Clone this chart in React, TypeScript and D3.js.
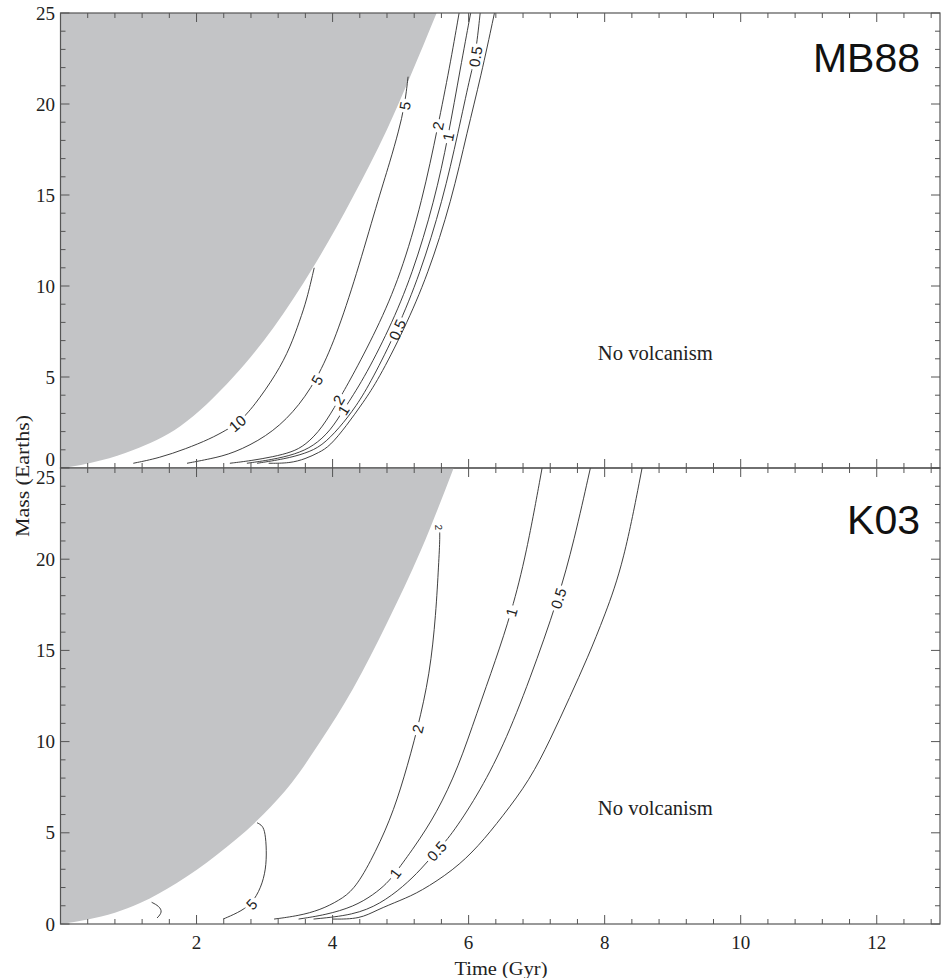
import React from "react";
import * as d3 from "d3";

type P = [number, number];

const W = 941;
const H = 978;
const X_MAX = 12.93;
const xMajorTicks = [2, 4, 6, 8, 10, 12];
const yMajorTicks = [0, 5, 10, 15, 20, 25];

// ---- MB88 panel (time Gyr, mass Earths) ----
const mb88Boundary: P[] = [[0, 0], [0.3, 0.17], [0.6, 0.42], [1.07, 0.99], [1.76, 2.3], [2.54, 5.0], [3.13, 7.7], [3.71, 11.0], [4.3, 14.9], [4.8, 18.6], [5.14, 21.5], [5.53, 25]];
const mb88C10: P[] = [[1.07, 0.26], [1.45, 0.55], [1.84, 1.05], [2.2, 1.6], [2.44, 2.09], [2.62, 2.5], [2.84, 3.37], [3.18, 5.19], [3.38, 6.65], [3.52, 8.13], [3.62, 9.23], [3.73, 11.0]];
const mb88C5: P[] = [[1.86, 0.26], [2.2, 0.5], [2.54, 0.8], [3.03, 1.72], [3.42, 3.0], [3.77, 4.84], [4.05, 7.2], [4.35, 10.6], [4.65, 14.5], [4.85, 16.9], [4.97, 18.5], [5.06, 19.9], [5.11, 21.5]];
const mb88C2: P[] = [[2.49, 0.26], [2.8, 0.4], [3.13, 0.62], [3.4, 0.87], [3.6, 1.25], [3.85, 2.2], [4.09, 3.74], [4.26, 4.84], [4.65, 7.6], [5.0, 10.6], [5.32, 14.7], [5.55, 18.8], [5.72, 22.0], [5.86, 25]];
const mb88C1: P[] = [[2.74, 0.26], [3.1, 0.45], [3.45, 0.75], [3.72, 1.2], [3.97, 2.05], [4.16, 3.19], [4.45, 4.84], [4.83, 7.6], [5.17, 10.6], [5.5, 14.7], [5.7, 18.2], [5.88, 22.0], [6.03, 25]];
const mb88C05: P[] = [[2.89, 0.26], [3.3, 0.5], [3.6, 0.8], [3.84, 1.2], [4.1, 2.2], [4.35, 3.4], [4.58, 4.84], [4.95, 7.6], [5.28, 10.6], [5.62, 14.7], [5.85, 18.5], [6.02, 21.5], [6.1, 22.6], [6.17, 25]];
const mb88C0: P[] = [[3.06, 0.26], [3.37, 0.26], [3.6, 0.5], [3.8, 0.85], [3.96, 1.2], [4.2, 2.3], [4.45, 3.6], [4.67, 4.84], [5.05, 7.6], [5.4, 10.6], [5.75, 14.7], [5.98, 18.5], [6.18, 21.5], [6.38, 25]];
const mb88Labels = [
  { text: "10", curve: "c10", t: 2.6, m: 2.45, size: 15 },
  { text: "5", curve: "c5", t: 3.77, m: 4.84, size: 15 },
  { text: "5", curve: "c5", t: 5.06, m: 19.9, size: 15 },
  { text: "2", curve: "c2", t: 4.09, m: 3.74, size: 15 },
  { text: "1", curve: "c1", t: 4.16, m: 3.19, size: 15 },
  { text: "2", curve: "c2", t: 5.55, m: 18.8, size: 15 },
  { text: "1", curve: "c1", t: 5.7, m: 18.2, size: 15 },
  { text: "0.5", curve: "c05", t: 4.95, m: 7.6, size: 15 },
  { text: "0.5", curve: "c05", t: 6.1, m: 22.6, size: 15 },
];

// ---- K03 panel ----
const k03Boundary: P[] = [[0, 0], [0.4, 0.25], [0.8, 0.62], [1.17, 1.15], [1.71, 2.25], [2.3, 3.8], [2.98, 6.0], [3.4, 7.75], [3.82, 10.0], [4.3, 12.9], [4.8, 16.5], [5.3, 20.5], [5.78, 25]];
const k03C5a: P[] = [[1.34, 1.19], [1.45, 0.98], [1.5, 0.65], [1.42, 0.33]];
const k03C5: P[] = [[2.39, 0.27], [2.6, 0.6], [2.81, 1.08], [2.95, 2.0], [3.02, 3.0], [3.03, 4.05], [3.01, 5.0], [2.97, 5.4], [2.89, 5.55]];
const k03C2: P[] = [[3.14, 0.27], [3.5, 0.45], [3.82, 0.77], [4.1, 1.3], [4.31, 1.86], [4.55, 3.33], [4.85, 5.7], [5.05, 8.0], [5.25, 10.7], [5.43, 13.7], [5.52, 17.0], [5.56, 19.8], [5.58, 21.2], [5.57, 21.9]];
const k03C1: P[] = [[3.5, 0.27], [3.9, 0.5], [4.31, 0.95], [4.6, 1.6], [4.8, 2.23], [4.92, 2.78], [5.2, 4.2], [5.53, 6.07], [5.85, 8.6], [6.12, 11.55], [6.4, 14.5], [6.63, 17.1], [6.85, 20.3], [7.08, 25]];
const k03C05: P[] = [[3.72, 0.27], [4.31, 0.49], [4.7, 1.1], [5.04, 2.05], [5.3, 3.0], [5.53, 4.0], [5.73, 4.79], [6.12, 6.98], [6.51, 9.72], [6.9, 13.4], [7.32, 17.85], [7.55, 21.0], [7.79, 25]];
const k03C0: P[] = [[4.0, 0.27], [4.4, 0.27], [4.65, 0.77], [5.0, 1.3], [5.29, 1.77], [5.78, 2.96], [6.14, 4.24], [6.5, 5.9], [6.9, 7.9], [7.2, 10.1], [7.49, 12.46], [7.75, 14.6], [8.0, 16.9], [8.28, 19.8], [8.55, 25]];
const k03Labels = [
  { text: "5", curve: "c5", t: 2.81, m: 1.08, size: 15 },
  { text: "2", curve: "c2", t: 5.25, m: 10.7, size: 15 },
  { text: "2", curve: "c2", t: 5.56, m: 21.75, size: 10 },
  { text: "1", curve: "c1", t: 4.92, m: 2.78, size: 15 },
  { text: "1", curve: "c1", t: 6.63, m: 17.1, size: 15 },
  { text: "0.5", curve: "c05", t: 5.53, m: 4.0, size: 15 },
  { text: "0.5", curve: "c05", t: 7.32, m: 17.85, size: 15 },
];

const SERIF = "'Liberation Serif', 'Times New Roman', serif";
const SANS = "'Liberation Sans', Arial, sans-serif";
const AXIS = "#555";
const LINE = "#2a2a2a";
const GREY = "#c3c4c6";

const x = d3.scaleLinear().domain([0, X_MAX]).range([60.5, 940]);

const panels = [
  {
    key: "mb88", title: "MB88", top: 13, bottom: 468, titleY: 72,
    boundary: mb88Boundary,
    curves: { c10: mb88C10, c5: mb88C5, c2: mb88C2, c1: mb88C1, c05: mb88C05, c0: mb88C0 } as Record<string, P[]>,
    labels: mb88Labels,
    shift: { 0: -9 } as Record<number, number>,
  },
  {
    key: "k03", title: "K03", top: 468, bottom: 924, titleY: 534,
    boundary: k03Boundary,
    curves: { c5a: k03C5a, c5: k03C5, c2: k03C2, c1: k03C1, c05: k03C05, c0: k03C0 } as Record<string, P[]>,
    labels: k03Labels,
    shift: { 25: 9 } as Record<number, number>,
  },
];

function textWidth(s: string, size: number) {
  let w = 0;
  for (const c of s) w += c === "." ? 0.28 : 0.56;
  return w * size;
}

function Panel({ p }: { p: (typeof panels)[number] }) {
  const y = d3.scaleLinear().domain([0, 25]).range([p.bottom, p.top]);
  const line = d3.line<P>().x((d) => x(d[0])).y((d) => y(d[1])).curve(d3.curveBasis);
  const edge = d3.line<P>().x((d) => x(d[0])).y((d) => y(d[1])).curve(d3.curveMonotoneX);
  const greyPath = edge(p.boundary) + `L${x(0)},${y(25)}Z`;
  const x0 = x(0), x1 = x(X_MAX);
  const clipId = `clip-${p.key}`;

  const labelGeom = p.labels.map((l) => {
    const pts = p.curves[l.curve].map((d) => [x(d[0]), y(d[1])]);
    const lx = x(l.t), ly = y(l.m);
    let best = 0, bd = Infinity;
    pts.forEach((q, i) => {
      const dd = (q[0] - lx) ** 2 + (q[1] - ly) ** 2;
      if (dd < bd) { bd = dd; best = i; }
    });
    const a = pts[Math.max(0, best - 1)], b = pts[Math.min(pts.length - 1, best + 1)];
    let ang = (Math.atan2(b[1] - a[1], b[0] - a[0]) * 180) / Math.PI;
    if (ang > 90) ang -= 180;
    if (ang < -90) ang += 180;
    return { ...l, lx, ly, ang, w: textWidth(l.text, l.size) + 5, h: l.size * 0.85 };
  });

  const xMinor = d3.range(0, X_MAX, 0.4).filter((v) => Math.round(v * 10) % 20 !== 0);
  const yMinor = d3.range(0, 25, 1).filter((v) => v % 5 !== 0);

  return (
    <g>
      <defs>
        <clipPath id={clipId}>
          <rect x={x0} y={p.top} width={x1 - x0} height={p.bottom - p.top} />
        </clipPath>
        {Object.keys(p.curves).map((k) => (
          <mask key={k} id={`mask-${p.key}-${k}`} maskUnits="userSpaceOnUse" x={0} y={0} width={W} height={H}>
            <rect x={0} y={0} width={W} height={H} fill="white" />
            {labelGeom.filter((l) => l.curve === k).map((l, i) => (
              <rect key={i} x={-l.w / 2} y={-l.h / 2} width={l.w} height={l.h} fill="black"
                transform={`translate(${l.lx},${l.ly}) rotate(${l.ang})`} />
            ))}
          </mask>
        ))}
      </defs>
      <g clipPath={`url(#${clipId})`}>
        <path d={greyPath} fill={GREY} stroke="none" />
        {Object.entries(p.curves).map(([k, pts]) => (
          <path key={k} d={line(pts) || ""} fill="none" stroke={LINE} strokeWidth={0.9}
            mask={`url(#mask-${p.key}-${k})`} />
        ))}
      </g>
      {labelGeom.map((l, i) => (
        <text key={i} transform={`translate(${l.lx},${l.ly}) rotate(${l.ang})`} textAnchor="middle"
          dominantBaseline="central" fontFamily={SANS} fontSize={l.size} fill="#222">{l.text}</text>
      ))}
      <text x={x(7.9)} y={y(5.95)} fontFamily={SERIF} fontSize={20} fill="#222"
        textLength={115} lengthAdjust="spacingAndGlyphs">No volcanism</text>
      <text x={920} y={p.titleY} textAnchor="end" fontFamily={SANS} fontSize={41} fill="#111">{p.title}</text>
      {/* frame */}
      <rect x={x0} y={p.top} width={x1 - x0} height={p.bottom - p.top} fill="none" stroke={AXIS} strokeWidth={1.2} />
      {/* x ticks */}
      {xMajorTicks.map((v) => (
        <g key={`xm${v}`} stroke={AXIS} strokeWidth={1}>
          <line x1={x(v)} x2={x(v)} y1={p.bottom} y2={p.bottom - 9} />
          <line x1={x(v)} x2={x(v)} y1={p.top} y2={p.top + 9} />
        </g>
      ))}
      {xMinor.map((v) => (
        <g key={`xn${v}`} stroke={AXIS} strokeWidth={1}>
          <line x1={x(v)} x2={x(v)} y1={p.bottom} y2={p.bottom - 5} />
          <line x1={x(v)} x2={x(v)} y1={p.top} y2={p.top + 5} />
        </g>
      ))}
      {/* y ticks */}
      {yMajorTicks.map((v) => (
        <g key={`ym${v}`}>
          <line x1={x0} x2={x0 + 9} y1={y(v)} y2={y(v)} stroke={AXIS} />
          <line x1={x1} x2={x1 - 9} y1={y(v)} y2={y(v)} stroke={AXIS} />
          <text x={55} y={y(v) + (p.shift[v] || 0)} textAnchor="end" dominantBaseline="central"
            fontFamily={SERIF} fontSize={19} fill="#222">{v}</text>
        </g>
      ))}
      {yMinor.map((v) => (
        <g key={`yn${v}`} stroke={AXIS}>
          <line x1={x0} x2={x0 + 5} y1={y(v)} y2={y(v)} />
          <line x1={x1} x2={x1 - 5} y1={y(v)} y2={y(v)} />
        </g>
      ))}
    </g>
  );
}

export default function App() {
  return (
    <svg width={W} height={H} style={{ position: "absolute", left: 0, top: 0, background: "white" }}>
      <rect x={0} y={0} width={W} height={H} fill="white" />
      {panels.map((p) => <Panel key={p.key} p={p} />)}
      {xMajorTicks.map((v) => (
        <text key={v} x={x(v)} y={942} textAnchor="middle" dominantBaseline="central"
          fontFamily={SERIF} fontSize={19} fill="#222">{v}</text>
      ))}
      <text x={501} y={968} textAnchor="middle" dominantBaseline="central" fontFamily={SERIF}
        fontSize={19} fill="#222" textLength={93} lengthAdjust="spacingAndGlyphs">Time (Gyr)</text>
      <text transform={`translate(22,476) rotate(-90)`} textAnchor="middle" dominantBaseline="central"
        fontFamily={SERIF} fontSize={19} fill="#222" textLength={122} lengthAdjust="spacingAndGlyphs">Mass (Earths)</text>
    </svg>
  );
}
